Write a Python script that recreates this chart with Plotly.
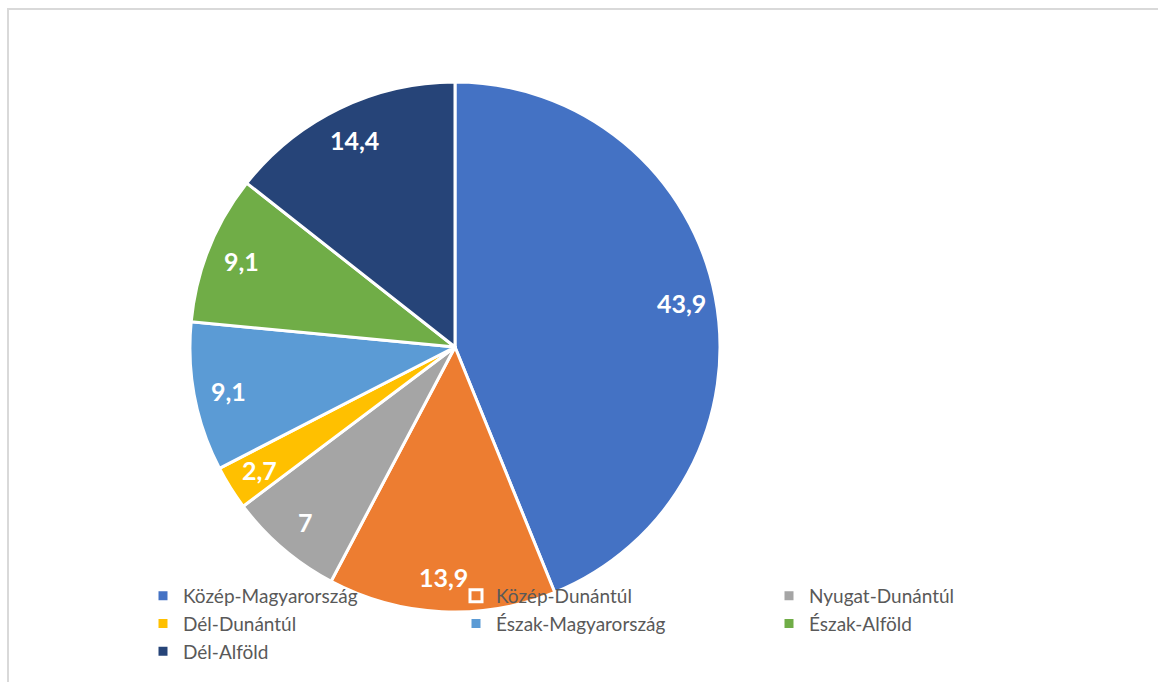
import math
import plotly.graph_objects as go

regions = ["Közép-Magyarország", "Közép-Dunántúl", "Nyugat-Dunántúl", "Dél-Dunántúl",
           "Észak-Magyarország", "Észak-Alföld", "Dél-Alföld"]
shares = [43.9, 13.9, 7, 2.7, 9.1, 9.1, 14.4]
colors = ["#4472C4", "#ED7D31", "#A5A5A5", "#FFC000", "#5B9BD5", "#70AD47", "#264478"]

W, H = 1158, 682
labels_txt = [f"{v:g}".replace(".", ",") for v in shares]

# pie geometry in pixels
cx, cy, r = 455, 347, 265
label_radius = 0.87 * r

fig = go.Figure(go.Pie(
    labels=regions,
    values=shares,
    textinfo="none",
    marker=dict(colors=colors, line=dict(color="white", width=3)),
    sort=False,
    direction="clockwise",
    rotation=0,
    hoverinfo="label+value",
    domain=dict(x=[(cx - r) / W, (cx + r) / W], y=[(H - cy - r) / H, (H - cy + r) / H]),
))

# value labels on each slice's bisector, near the rim
total = sum(shares)
annotations = []
cum = 0.0
for v, txt in zip(shares, labels_txt):
    mid = 2 * math.pi * (cum + v / 2) / total
    cum += v
    px = cx + label_radius * math.sin(mid)
    py = cy - label_radius * math.cos(mid)
    annotations.append(dict(
        x=px / W, y=(H - py) / H, xref="paper", yref="paper",
        text=txt, showarrow=False, xanchor="center", yanchor="middle",
        font=dict(family="Lato", size=25, color="white", weight="bold"),
    ))

fig.update_layout(
    width=W, height=H,
    margin=dict(l=0, r=0, t=0, b=0),
    paper_bgcolor="white",
    showlegend=True,
    annotations=annotations,
    legend=dict(
        orientation="h",
        x=143 / W, y=(H - 577) / H,
        xanchor="left", yanchor="top",
        entrywidth=268, entrywidthmode="pixels",
        font=dict(family="Lato", size=19, color="#595959"),
        bgcolor="rgba(0,0,0,0)",
        traceorder="normal",
    ),
    shapes=[dict(
        type="rect", xref="paper", yref="paper",
        x0=8 / W, x1=1.05, y0=-0.05, y1=(H - 9) / H,
        line=dict(color="#D9D9D9", width=2), fillcolor="rgba(0,0,0,0)", layer="below",
    )],
)

fig.write_html("out.html")
